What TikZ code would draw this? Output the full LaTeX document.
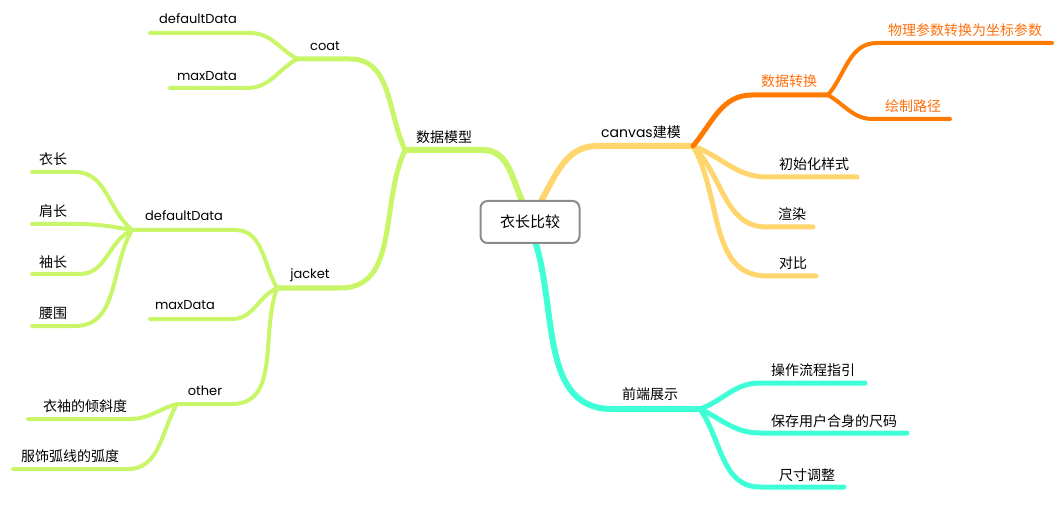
\documentclass[tikz,border=0pt]{standalone}
\usepackage{fontspec}
\setmainfont{Noto Sans CJK SC}
\newfontfamily\lat{Poppins}
\definecolor{cgreen}{RGB}{200,246,104}
\definecolor{cyellow}{RGB}{255,213,110}
\definecolor{corange}{RGB}{255,122,0}
\definecolor{ccyan}{RGB}{62,255,214}
\definecolor{ctext}{RGB}{255,110,10}
\definecolor{cborder}{RGB}{140,140,140}
\begin{document}
\begin{tikzpicture}[x=1pt,y=1pt,
  lbl/.style={inner sep=0pt, font=\fontsize{14}{16}\selectfont},
  llbl/.style={inner sep=0pt, font=\lat\fontsize{13}{16}\selectfont},
  olbl/.style={lbl, text=ctext},
  br/.style={line width=4pt, line cap=round},
  brmid/.style={line width=5pt, line cap=round},
  brmain/.style={line width=6pt, line cap=round},
  centerbox/.style={draw=cborder, line width=2pt, rounded corners=7pt, fill=white,
    minimum width=99pt, minimum height=42pt, inner sep=0pt, font=\fontsize{15}{17}\selectfont}]
\useasboundingbox (0,0) rectangle (1064,-518);

% centre attachment points
\coordinate (c-nl) at (523,-203);
\coordinate (c-nr) at (540,-203);
\coordinate (c-s) at (535,-241);

% ---------- labels ----------
\node[lbl] (dm) at (444,-137) {数据模型};
\node[llbl] (coat) at (325,-46) {coat};
\node[llbl] (dd1) at (198,-19) {defaultData};
\node[llbl] (md1) at (207,-76) {maxData};
\node[llbl] (jacket) at (310,-275) {jacket};
\node[llbl] (dd2) at (184,-216) {defaultData};
\node[llbl] (md2) at (185,-305) {maxData};
\node[llbl] (other) at (205,-391) {other};
\node[lbl] (l1) at (53,-159) {衣长};
\node[lbl] (l2) at (53,-211) {肩长};
\node[lbl] (l3) at (53,-262) {袖长};
\node[lbl] (l4) at (53,-313) {腰围};
\node[lbl] (o1) at (85,-406) {衣袖的倾斜度};
\node[lbl] (o2) at (70,-456) {服饰弧线的弧度};

\node[lbl] (cv) at (641,-132) {{\lat canvas}建模};
\node[lbl] (y1) at (814,-164) {初始化样式};
\node[lbl] (y2) at (792,-214) {渲染};
\node[lbl] (y3) at (793,-263) {对比};
\node[olbl] (sj) at (789,-81) {数据转换};
\node[olbl] (s1) at (965,-30) {物理参数转换为坐标参数};
\node[olbl] (s2) at (913,-106) {绘制路径};

\node[lbl] (qd) at (650,-394) {前端展示};
\node[lbl] (q1) at (813,-370) {操作流程指引};
\node[lbl] (q2) at (834,-421) {保存用户合身的尺码};
\node[lbl] (q3) at (807,-475) {尺寸调整};

% ---------- underline coordinates (a = near parent, b = far end) ----------
\coordinate (dm-a) at (483,-150); \coordinate (dm-b) at (405,-150);
\coordinate (coat-a) at (350,-59); \coordinate (coat-b) at (297,-59);
\coordinate (dd1-a) at (250,-33); \coordinate (dd1-b) at (150,-33);
\coordinate (md1-a) at (247,-88); \coordinate (md1-b) at (170,-88);
\coordinate (jacket-a) at (340,-288); \coordinate (jacket-b) at (277,-288);
\coordinate (dd2-a) at (235,-230); \coordinate (dd2-b) at (132,-230);
\coordinate (md2-a) at (232,-319); \coordinate (md2-b) at (150,-319);
\coordinate (other-a) at (232,-404); \coordinate (other-b) at (177,-404);
\coordinate (l1-a) at (75,-172); \coordinate (l1-b) at (32,-172);
\coordinate (l2-a) at (75,-224); \coordinate (l2-b) at (32,-224);
\coordinate (l3-a) at (80,-274); \coordinate (l3-b) at (32,-274);
\coordinate (l4-a) at (75,-326); \coordinate (l4-b) at (32,-326);
\coordinate (o1-a) at (130,-419); \coordinate (o1-b) at (28,-419);
\coordinate (o2-a) at (128,-469); \coordinate (o2-b) at (13,-469);

\coordinate (cv-a) at (597,-146); \coordinate (cv-b) at (693,-146);
\coordinate (y1-a) at (767,-177); \coordinate (y1-b) at (857,-177);
\coordinate (y2-a) at (767,-227); \coordinate (y2-b) at (813,-227);
\coordinate (y3-a) at (767,-276); \coordinate (y3-b) at (816,-276);
\coordinate (sj-a) at (752,-95); \coordinate (sj-b) at (828,-95);
\coordinate (s1-a) at (877,-43); \coordinate (s1-b) at (1052,-43);
\coordinate (s2-a) at (873,-119); \coordinate (s2-b) at (950,-119);

\coordinate (qd-a) at (612,-409); \coordinate (qd-b) at (700,-409);
\coordinate (q1-a) at (760,-383); \coordinate (q1-b) at (865,-383);
\coordinate (q2-a) at (760,-433); \coordinate (q2-b) at (907,-433);
\coordinate (q3-a) at (760,-487); \coordinate (q3-b) at (844,-487);

% ---------- green branch ----------
\begin{scope}[draw=cgreen]
\draw[brmain] (c-nl) to[out=115,in=0] (dm-a) -- (dm-b);
\draw[brmid] (dm-b) to[out=115,in=0] (coat-a) -- (coat-b);
\draw[br] (coat-b) to[out=150,in=0] (dd1-a) -- (dd1-b);
\draw[br] (coat-b) to[out=210,in=0] (md1-a) -- (md1-b);
\draw[brmid] (dm-b) to[out=245,in=0] (jacket-a) -- (jacket-b);
\draw[br] (jacket-b) to[out=120,in=0] (dd2-a) -- (dd2-b);
\draw[br] (jacket-b) to[out=205,in=0] (md2-a) -- (md2-b);
\draw[br] (jacket-b) to[out=250,in=0] (other-a) -- (other-b);
\draw[br] (dd2-b) to[out=140,in=0] (l1-a) -- (l1-b);
\draw[br] (dd2-b) to[out=170,in=0] (l2-a) -- (l2-b);
\draw[br] (dd2-b) to[out=205,in=0] (l3-a) -- (l3-b);
\draw[br] (dd2-b) to[out=240,in=0] (l4-a) -- (l4-b);
\draw[br] (other-b) to[out=195,in=0] (o1-a) -- (o1-b);
\draw[br] (other-b) to[out=240,in=0] (o2-a) -- (o2-b);
\end{scope}

% ---------- yellow / orange branch ----------
\begin{scope}[draw=cyellow]
\draw[brmain] (c-nr) to[out=60,in=180] (cv-a) -- (cv-b);
\draw[brmid] (cv-b) to[out=-20,in=180] (y1-a) -- (y1-b);
\draw[brmid] (cv-b) to[out=-45,in=180] (y2-a) -- (y2-b);
\draw[brmid] (cv-b) to[out=-60,in=180] (y3-a) -- (y3-b);
\end{scope}
\begin{scope}[draw=corange]
\draw[brmid] (cv-b) to[out=50,in=180] (sj-a) -- (sj-b);
\draw[br] (sj-b) to[out=50,in=180] (s1-a) -- (s1-b);
\draw[br] (sj-b) to[out=-30,in=180] (s2-a) -- (s2-b);
\end{scope}

% ---------- cyan branch ----------
\begin{scope}[draw=ccyan]
\draw[brmain] (c-s) to[out=-72,in=180] (qd-a) -- (qd-b);
\draw[brmid] (qd-b) to[out=20,in=180] (q1-a) -- (q1-b);
\draw[brmid] (qd-b) to[out=-25,in=180] (q2-a) -- (q2-b);
\draw[brmid] (qd-b) to[out=-55,in=180] (q3-a) -- (q3-b);
\end{scope}

% ---------- centre ----------
\node[centerbox] (c) at (530,-222) {衣长比较};
\end{tikzpicture}
\end{document}
